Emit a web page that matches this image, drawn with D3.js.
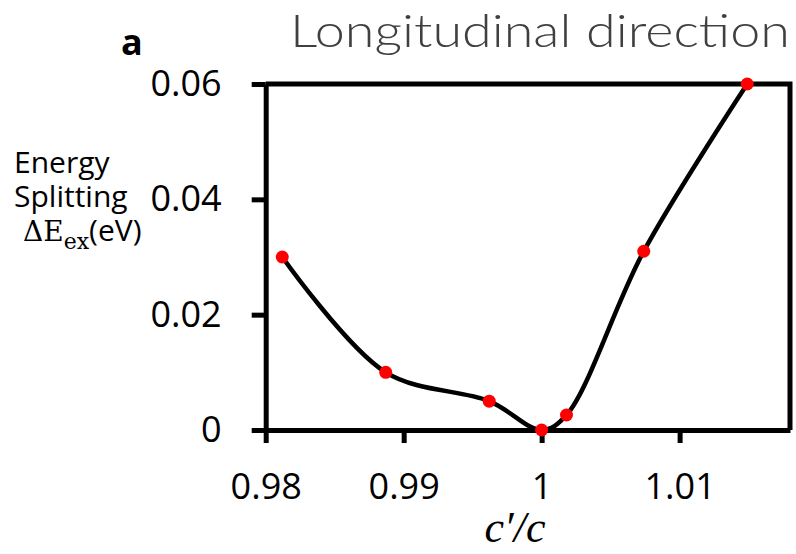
<!DOCTYPE html>
<html>
<head>
<meta charset="utf-8">
<script src="https://cdn.jsdelivr.net/npm/d3@7"></script>
<style>
  body { margin: 0; background: #fff; }
  svg { display: block; }
</style>
</head>
<body>
<div id="chart"></div>
<script>
// c'/c ratio and the exciton energy splitting
var ratio = [0.9812, 0.9887, 0.9962, 1.0, 1.0018, 1.0074, 1.0149];
var splitting = [0.030, 0.010, 0.005, 0.0, 0.0026, 0.031, 0.060];
var xTicks = [0.98, 0.99, 1, 1.01];
var yTicks = [0, 0.02, 0.04, 0.06];

var width = 796,
    height = 554;

var svg = d3.select("#chart")
    .append("svg")
    .attr("width", width)
    .attr("height", height);

var x = d3.scaleLinear().domain([0.98, 1.018]).range([265.7, 790]);
var y = d3.scaleLinear().domain([0, 0.06]).range([430, 84]);

var tickFont = "'Open Sans', 'Noto Sans', sans-serif";

/* frame: top and right edges */
svg.append("path")
    .attr("d", "M" + x(0.98) + "," + y(0.06) + "H" + x(1.018) + "V" + y(0))
    .attr("fill", "none")
    .attr("stroke", "#000")
    .attr("stroke-width", 5);

/* x axis */
var gx = svg.append("g")
    .attr("transform", "translate(0," + y(0) + ")")
    .call(d3.axisBottom(x)
        .tickValues(xTicks)
        .tickSizeInner(13)
        .tickSizeOuter(0)
        .tickPadding(30)
        .tickFormat(function(d) { return +d.toFixed(2); }));

/* y axis */
var gy = svg.append("g")
    .attr("transform", "translate(" + x(0.98) + ",0)")
    .call(d3.axisLeft(y)
        .tickValues(yTicks)
        .tickSizeInner(14)
        .tickSizeOuter(0)
        .tickPadding(30)
        .tickFormat(function(d) { return +d.toFixed(2); }));

[gx, gy].forEach(function(g) {
  g.selectAll("path, line")
      .attr("stroke", "#000")
      .attr("stroke-width", 5);
  g.selectAll("text")
      .attr("fill", "#000")
      .style("font-family", tickFont)
      .style("font-size", "36px");
});

/* smoothed line */
var line = d3.line()
    .x(function(d, i) { return x(ratio[i]); })
    .y(function(d) { return y(d); })
    .curve(d3.curveCatmullRom.alpha(0.5));

svg.append("path")
    .datum(splitting)
    .attr("d", line)
    .attr("fill", "none")
    .attr("stroke", "#000")
    .attr("stroke-width", 4.5);

/* points */
svg.selectAll(".dot")
    .data(splitting)
    .enter().append("circle")
    .attr("class", "dot")
    .attr("cx", function(d, i) { return x(ratio[i]); })
    .attr("cy", function(d) { return y(d); })
    .attr("r", 6.5)
    .attr("fill", "#ff0000");

/* title and panel letter */
svg.append("text")
    .attr("x", 290)
    .attr("y", 47)
    .attr("textLength", 500)
    .attr("lengthAdjust", "spacingAndGlyphs")
    .style("font-family", "Lato, 'DejaVu Sans', sans-serif")
    .style("font-weight", 300)
    .style("font-size", "46px")
    .attr("fill", "#404040")
    .text("Longitudinal direction");

svg.append("text")
    .attr("x", 121)
    .attr("y", 55)
    .style("font-family", tickFont)
    .style("font-weight", 700)
    .style("font-size", "36px")
    .attr("fill", "#000")
    .text("a");

/* y axis title */
var ylab = svg.append("g")
    .style("font-family", tickFont)
    .style("font-size", "30px")
    .attr("fill", "#000");

ylab.append("text").attr("x", 14).attr("y", 173).text("Energy");
ylab.append("text").attr("x", 14).attr("y", 207).text("Splitting");

var dl = ylab.append("text").attr("x", 23).attr("y", 241);
dl.append("tspan")
    .style("font-family", "'DejaVu Serif', 'Liberation Serif', serif")
    .style("font-size", "28px")
    .text("\u0394E");
dl.append("tspan")
    .attr("dy", 8)
    .style("font-family", "'DejaVu Serif', 'Liberation Serif', serif")
    .style("font-size", "22px")
    .text("ex");
dl.append("tspan")
    .attr("dy", -8)
    .text("(eV)");

/* x axis title */
svg.append("text")
    .attr("x", 515)
    .attr("y", 542)
    .attr("text-anchor", "middle")
    .style("font-family", "'Liberation Serif', 'DejaVu Serif', serif")
    .style("font-style", "italic")
    .style("font-size", "44px")
    .attr("fill", "#000")
    .text("c\u2032/c");
</script>
</body>
</html>
